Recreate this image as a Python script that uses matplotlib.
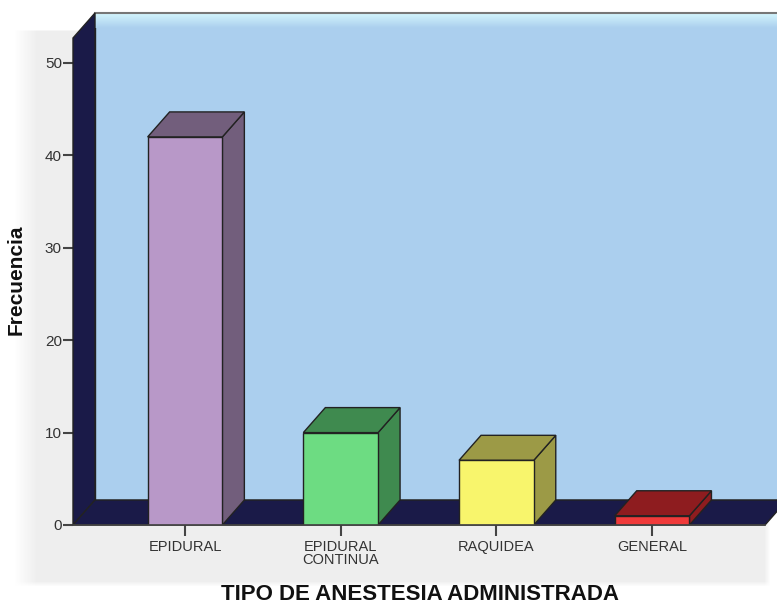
import numpy as np
import matplotlib
matplotlib.use("Agg")
import matplotlib.pyplot as plt
from matplotlib.patches import Polygon, Rectangle
from matplotlib import font_manager

# Data
categories = ["EPIDURAL", "EPIDURAL\nCONTINUA", "RAQUIDEA", "GENERAL"]
frequencies = [42, 10, 7, 1]
y_ticks = [0, 10, 20, 30, 40, 50]
front_colors = ["#b898c8", "#6ddc82", "#f8f56c", "#f03a3a"]
shade_colors = ["#725e7c", "#3f8a4f", "#9c9a46", "#8e1c1f"]

plt.rcParams["font.family"] = ["Liberation Sans", "DejaVu Sans"]
names = {f.name for f in font_manager.fontManager.ttflist}
narrow = "Liberation Sans Narrow" in names

W, H = 777, 608
fig = plt.figure(figsize=(W / 100, H / 100), dpi=100, facecolor="white")

# Grey panel with soft edges, drawn as a background image
bg_ax = fig.add_axes([0, 0, 1, 1], zorder=-5)
bg_ax.set_axis_off()
xs = np.arange(W)
ys = np.arange(H)
fx = np.clip((xs - 14) / 22, 0, 1) * np.clip((770 - xs) / 6, 0, 1)
fy = np.clip((ys - 29) / 2, 0, 1) * np.clip((586 - ys) / 5, 0, 1)
mask = fy[:, None] * fx[None, :]
grey = np.array([0.937, 0.937, 0.937])
img = 1 - mask[..., None] * (1 - grey)
bg_ax.imshow(img, extent=(0, W, H, 0), aspect="auto", interpolation="bilinear")
bg_ax.set_xlim(0, W)
bg_ax.set_ylim(H, 0)

# Axes: x in category units, y in frequency units
ax_left, ax_right, ax_bottom, ax_top = 73, 777, 525, 13
ax = fig.add_axes([ax_left / W, 1 - ax_bottom / H, (ax_right - ax_left) / W,
                   (ax_bottom - ax_top) / H])
ax.set_zorder(1)
ax.patch.set_visible(False)
px_per_cat = 155.7
px_per_unit = 9.24
x0 = (ax_left - 185) / px_per_cat
x1 = (ax_right - 185) / px_per_cat
ytop = (ax_bottom - ax_top) / px_per_unit
ax.set_xlim(x0, x1)
ax.set_ylim(0, ytop)
for s in ax.spines.values():
    s.set_visible(False)

dx = 22 / px_per_cat   # depth offset, horizontal
dy = 25 / px_per_unit  # depth offset, vertical
navy = "#1a1a48"
edge = "#222222"
lw = 1.0

# Back wall
ax.add_patch(Polygon([(x0 + dx, dy), (x1 + 0.2, dy), (x1 + 0.2, ytop), (x0 + dx, ytop)],
                     closed=True, facecolor="#abcfee", edgecolor=edge, lw=lw,
                     zorder=1, clip_on=False))
# light band along the top of the back wall
grad = np.linspace(0, 1, 50).reshape(-1, 1)
ax.imshow(grad, extent=(x0 + dx, x1, ytop - 1.6, ytop), origin="lower",
          cmap=matplotlib.colors.LinearSegmentedColormap.from_list(
              "band", ["#abcfee", "#d4f6fd"]), aspect="auto", zorder=1.5,
          interpolation="bilinear")
ax.plot([x0 + dx, x1], [ytop, ytop], color="#777777", lw=1.5, zorder=2,
        clip_on=False)

# Left wall
ax.add_patch(Polygon([(x0, 0), (x0 + dx, dy), (x0 + dx, ytop), (x0, ytop - dy)],
                     closed=True, facecolor=navy, edgecolor=edge, lw=lw,
                     zorder=2, clip_on=False))
# Floor
x_floor_end = (765 - 185) / px_per_cat
ax.add_patch(Polygon([(x0, 0), (x_floor_end, 0), (x_floor_end + dx, dy), (x0 + dx, dy)],
                     closed=True, facecolor=navy, edgecolor=edge, lw=lw,
                     zorder=2, clip_on=False))

# Bars as boxes
half = 0.24
for i, (v, fc, sc) in enumerate(zip(frequencies, front_colors, shade_colors)):
    l, r = i - half, i + half
    ax.add_patch(Polygon([(r, 0), (r + dx, dy), (r + dx, v + dy), (r, v)],
                         closed=True, facecolor=sc, edgecolor=edge, lw=lw, zorder=3))
    ax.add_patch(Polygon([(l, v), (r, v), (r + dx, v + dy), (l + dx, v + dy)],
                         closed=True, facecolor=sc, edgecolor=edge, lw=lw, zorder=3))
    ax.add_patch(Rectangle((l, 0), r - l, v, facecolor=fc, edgecolor=edge,
                           lw=lw, zorder=4))

# Front baseline
ax.plot([x0, x_floor_end], [0, 0], color="#444444", lw=1.2, zorder=5, clip_on=False)

ax.set_yticks(y_ticks)
ax.set_yticklabels([str(t) for t in y_ticks], fontsize=11, color="#333333")
ax.set_xticks(range(len(categories)))
if narrow:
    ax.set_xticklabels(categories, fontsize=12.5, color="#333333", linespacing=0.9,
                       family=["Liberation Sans Narrow", "Liberation Sans"])
else:
    ax.set_xticklabels(categories, fontsize=10.5, color="#333333", linespacing=0.9)
ax.tick_params(axis="y", length=7, width=1.5, color="#444444", pad=1)
ax.tick_params(axis="x", length=8, width=1.5, color="#444444", pad=3)

fig.text(16 / W, 1 - 280 / H, "Frecuencia", rotation=90, fontsize=15,
         fontweight="bold", ha="center", va="center", color="#111111")
fig.text(420 / W, 1 - 594 / H, "TIPO DE ANESTESIA ADMINISTRADA", fontsize=16,
         fontweight="bold", ha="center", va="center", color="#111111")

fig.savefig("out.png", dpi=100, facecolor=fig.get_facecolor())
